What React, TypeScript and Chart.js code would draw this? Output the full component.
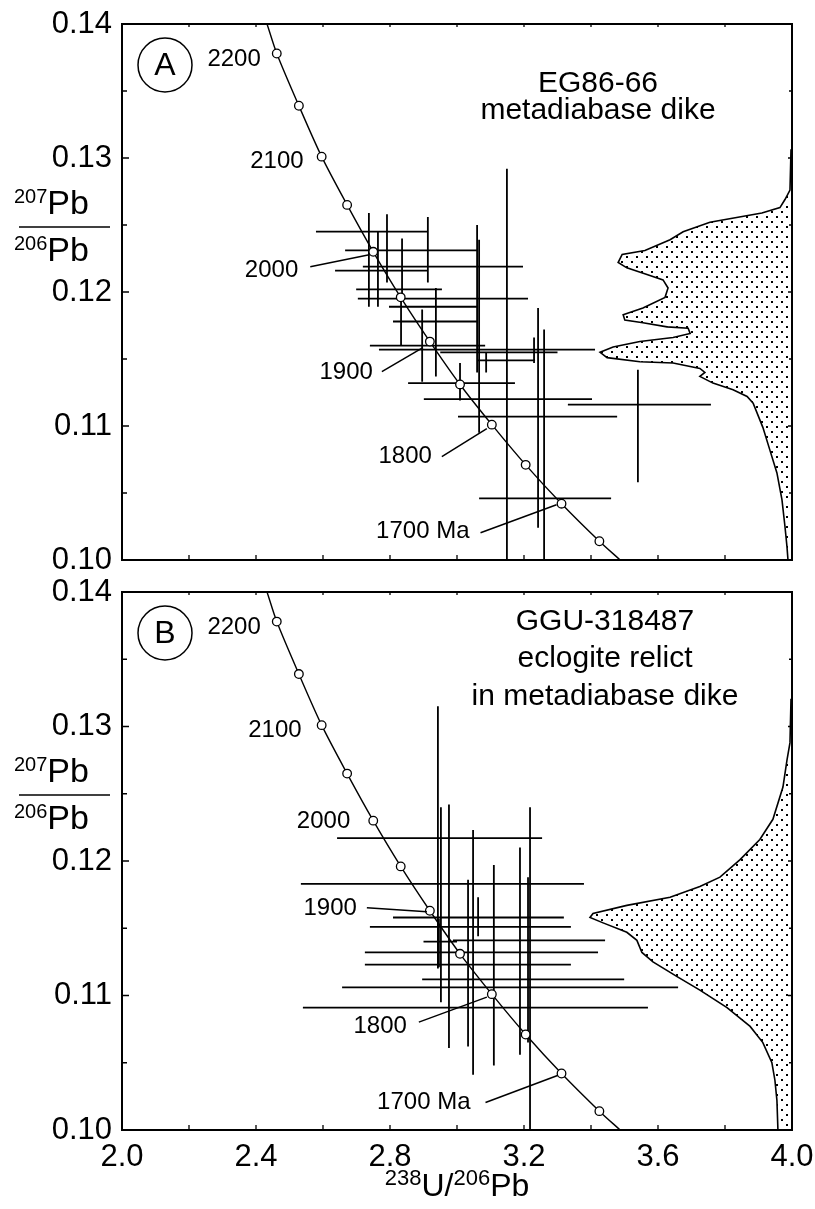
import React, { useEffect, useRef } from 'react';
import { Chart, registerables } from 'chart.js';
Chart.register(...registerables);

const FONT = '"Liberation Sans", Arial, Helvetica, sans-serif';

// Concordia curve (Tera-Wasserburg), ages in Ma (0 = curve end, no marker)
const concordiaAge = [0, 2200, 2150, 2100, 2050, 2000, 1950, 1900, 1850, 1800, 1750, 1700, 1650, 0];
const concordiaX = [2.433, 2.462, 2.528, 2.596, 2.672, 2.750, 2.832, 2.919, 3.009, 3.104, 3.205, 3.312, 3.425, 3.487];
const concordiaY = [0.1400, 0.1378, 0.1339, 0.1301, 0.1265, 0.1230, 0.1196, 0.1163, 0.1131, 0.1101, 0.1071, 0.1042, 0.1014, 0.1000];

// Panel A: EG86-66 analyses (centre, error cross extents)
const aX = [2.737, 2.913, 3.060, 2.791, 2.836, 2.764, 2.833, 2.937, 2.896, 3.149, 3.230, 3.009, 3.242, 3.540, 3.066, 3.260, 3.087];
const aY = [0.1245, 0.1231, 0.1219, 0.1216, 0.1202, 0.1195, 0.1189, 0.1178, 0.1160, 0.1157, 0.1149, 0.1132, 0.1120, 0.1116, 0.1107, 0.1046, 0.1155];
const aXLo = [2.579, 2.666, 2.719, 2.636, 2.699, 2.704, 2.797, 2.809, 2.740, 2.767, 3.060, 2.854, 2.901, 3.331, 3.003, 3.066, 2.950];
const aXHi = [2.913, 3.060, 3.197, 2.913, 2.955, 3.212, 3.060, 3.060, 3.084, 3.412, 3.233, 3.173, 3.403, 3.758, 3.478, 3.460, 3.300];
const aYLo = [0.1189, 0.1207, 0.1140, 0.1207, 0.1194, 0.1189, 0.1160, 0.1137, 0.1133, 0.0990, 0.1147, 0.1119, 0.1024, 0.1058, 0.1095, 0.0990, 0.1140];
const aYHi = [0.1259, 0.1256, 0.1250, 0.1258, 0.1240, 0.1245, 0.1194, 0.1203, 0.1187, 0.1292, 0.1166, 0.1147, 0.1188, 0.1142, 0.1239, 0.1172, 0.1155];

// Panel A: probability density (207/206 value, width in x-units from the right edge)
const densAY = [0.1306, 0.1276, 0.1269, 0.1263, 0.1259, 0.1252, 0.1245, 0.1239, 0.1231, 0.1228, 0.1222, 0.1218, 0.1213, 0.1209, 0.1203, 0.1196, 0.1188, 0.1183, 0.1179, 0.1177, 0.1174, 0.1173, 0.1169, 0.1166, 0.1163, 0.1159, 0.1155, 0.1151, 0.1148, 0.1147, 0.1143, 0.1140, 0.1137, 0.1132, 0.1127, 0.1122, 0.1117, 0.1099, 0.1082, 0.1065, 0.1045, 0.1025, 0.1010, 0.1000];
const densAW = [0.003, 0.006, 0.021, 0.036, 0.090, 0.245, 0.325, 0.364, 0.439, 0.507, 0.519, 0.493, 0.433, 0.385, 0.370, 0.379, 0.445, 0.504, 0.499, 0.445, 0.373, 0.310, 0.304, 0.355, 0.454, 0.534, 0.573, 0.552, 0.454, 0.355, 0.275, 0.260, 0.275, 0.236, 0.176, 0.134, 0.116, 0.087, 0.066, 0.045, 0.030, 0.021, 0.015, 0.012];

// Panel B: GGU-318487 analyses
const bX = [2.943, 2.976, 3.063, 2.952, 3.188, 3.110, 3.033, 3.212, 3.218, 3.048, 2.946];
const bY = [0.1217, 0.1183, 0.1158, 0.1151, 0.1141, 0.1132, 0.1123, 0.1112, 0.1106, 0.1091, 0.1140];
const bXLo = [2.642, 2.534, 2.809, 2.740, 2.988, 2.725, 2.725, 2.896, 2.657, 2.540, 2.900];
const bXHi = [3.254, 3.379, 3.319, 3.340, 3.442, 3.421, 3.340, 3.499, 3.660, 3.570, 3.000];
const bYLo = [0.1120, 0.1061, 0.1144, 0.1095, 0.1056, 0.1048, 0.1062, 0.1065, 0.0990, 0.1041, 0.1121];
const bYHi = [0.1315, 0.1242, 0.1173, 0.1240, 0.1210, 0.1197, 0.1186, 0.1188, 0.1240, 0.1223, 0.1157];

// Panel B: probability density
const densBY = [0.1320, 0.1288, 0.1275, 0.1255, 0.1231, 0.1216, 0.1201, 0.1188, 0.1181, 0.1173, 0.1167, 0.1161, 0.1158, 0.1154, 0.1147, 0.1141, 0.1132, 0.1125, 0.1114, 0.1104, 0.1091, 0.1077, 0.1065, 0.1050, 0.1037, 0.1022, 0.1000];
const densBW = [0.003, 0.006, 0.015, 0.027, 0.057, 0.096, 0.155, 0.215, 0.275, 0.364, 0.493, 0.594, 0.603, 0.564, 0.493, 0.463, 0.448, 0.415, 0.343, 0.275, 0.194, 0.125, 0.087, 0.060, 0.051, 0.045, 0.042];

type AgeLabel = { age: number; text: string; dx: number; dy: number; leader?: number[] };

const ageLabelsA: AgeLabel[] = [
  { age: 2200, text: '2200', dx: -16, dy: 6 },
  { age: 2100, text: '2100', dx: -18, dy: 5 },
  { age: 2000, text: '2000', dx: -75, dy: 19, leader: [-63, 15, -4, 3] },
  { age: 1900, text: '1900', dx: -57, dy: 31, leader: [-48, 30, -7, 6] },
  { age: 1800, text: '1800', dx: -60, dy: 32, leader: [-50, 32, -5, 4] },
  { age: 1700, text: '1700 Ma', dx: -92, dy: 28, leader: [-81, 29, -5, 1] },
];
const ageLabelsB: AgeLabel[] = [
  { age: 2200, text: '2200', dx: -16, dy: 6 },
  { age: 2100, text: '2100', dx: -20, dy: 5 },
  { age: 2000, text: '2000', dx: -23, dy: 1 },
  { age: 1900, text: '1900', dx: -73, dy: -2, leader: [-63, -3, -3, 1] },
  { age: 1800, text: '1800', dx: -85, dy: 32, leader: [-73, 28, -5, 3] },
  { age: 1700, text: '1700 Ma', dx: -91, dy: 29, leader: [-76, 29, -4, 2] },
];

type PanelCfg = {
  key: string; letter: string; title: string[]; titleDy: number[]; titleX: number;
  cx: number[]; cy: number[]; xLo: number[]; xHi: number[]; yLo: number[]; yHi: number[];
  densY: number[]; densW: number[]; ages: AgeLabel[];
  top: number; height: number; padTop: number; xAxisH: number; xLabels: boolean; xTitle: boolean;
};

const panels: PanelCfg[] = [
  { key: 'A', letter: 'A', title: ['EG86-66', 'metadiabase dike'], titleDy: [68, 95], titleX: 598,
    cx: aX, cy: aY, xLo: aXLo, xHi: aXHi, yLo: aYLo, yHi: aYHi, densY: densAY, densW: densAW, ages: ageLabelsA,
    top: 0, height: 578, padTop: 24, xAxisH: 18, xLabels: false, xTitle: false },
  { key: 'B', letter: 'B', title: ['GGU-318487', 'eclogite relict', 'in metadiabase dike'], titleDy: [38, 75, 113], titleX: 605,
    cx: bX, cy: bY, xLo: bXLo, xHi: bXHi, yLo: bYLo, yHi: bYHi, densY: densBY, densW: densBW, ages: ageLabelsB,
    top: 578, height: 631, padTop: 14, xAxisH: 79, xLabels: true, xTitle: true },
];

function makeDotPattern(): CanvasPattern | string {
  const c = document.createElement('canvas');
  c.width = 10; c.height = 10;
  const g = c.getContext('2d');
  if (!g) return '#ccc';
  g.fillStyle = '#fff'; g.fillRect(0, 0, 10, 10);
  g.fillStyle = '#000';
  g.fillRect(1, 1, 2, 2);
  g.fillRect(6, 6, 2, 2);
  return g.createPattern(c, 'repeat') || '#ccc';
}

function drawSupText(ctx: CanvasRenderingContext2D, parts: [string, boolean][], x: number, base: number, align: 'left' | 'center', bigSize: number, smallSize: number) {
  const big = `${bigSize}px ${FONT}`, small = `${smallSize}px ${FONT}`;
  let total = 0;
  for (const [t, sup] of parts) { ctx.font = sup ? small : big; total += ctx.measureText(t).width; }
  let cx = align === 'center' ? x - total / 2 : x;
  ctx.textAlign = 'left'; ctx.textBaseline = 'alphabetic';
  for (const [t, sup] of parts) {
    ctx.font = sup ? small : big;
    ctx.fillText(t, cx, sup ? base - 11 : base);
    cx += ctx.measureText(t).width;
  }
}

function makeDecor(cfg: PanelCfg) {
  return {
    id: 'decor' + cfg.key,
    beforeDatasetsDraw(chart: any) {
      const { ctx, chartArea: a, scales } = chart;
      const x = scales.x, y = scales.y;
      const ds = chart.data.datasets[2].data as any[];
      ctx.save();
      ctx.beginPath(); ctx.rect(a.left, a.top, a.right - a.left, a.bottom - a.top); ctx.clip();
      ctx.strokeStyle = '#000'; ctx.lineWidth = 1.8; ctx.lineCap = 'butt';
      for (const p of ds) {
        const px = x.getPixelForValue(p.x), py = y.getPixelForValue(p.y);
        ctx.beginPath();
        ctx.moveTo(x.getPixelForValue(p.xMin), py); ctx.lineTo(x.getPixelForValue(p.xMax), py);
        ctx.moveTo(px, y.getPixelForValue(p.yMin)); ctx.lineTo(px, y.getPixelForValue(p.yMax));
        ctx.stroke();
      }
      ctx.restore();
    },
    afterDatasetsDraw(chart: any) {
      const { ctx } = chart;
      const meta = chart.getDatasetMeta(0);
      ctx.save();
      ctx.fillStyle = '#000'; ctx.strokeStyle = '#000';
      ctx.font = `24px ${FONT}`; ctx.textAlign = 'right'; ctx.textBaseline = 'middle';
      for (const l of cfg.ages) {
        const i = concordiaAge.indexOf(l.age);
        const el = meta.data[i];
        ctx.fillText(l.text, el.x + l.dx, el.y + l.dy);
        if (l.leader) {
          ctx.lineWidth = 1.5;
          ctx.beginPath();
          ctx.moveTo(el.x + l.leader[0], el.y + l.leader[1]);
          ctx.lineTo(el.x + l.leader[2], el.y + l.leader[3]);
          ctx.stroke();
        }
      }
      ctx.restore();
    },
    afterDraw(chart: any) {
      const { ctx, chartArea: a, scales } = chart;
      const x = scales.x, y = scales.y;
      ctx.save();
      ctx.strokeStyle = '#000'; ctx.fillStyle = '#000';
      // frame
      ctx.lineWidth = 2;
      ctx.strokeRect(a.left, a.top, a.right - a.left, a.bottom - a.top);
      // inward ticks
      ctx.lineWidth = 1.3;
      ctx.beginPath();
      for (const t of x.ticks) {
        const px = x.getPixelForValue(t.value);
        ctx.moveTo(px, a.bottom); ctx.lineTo(px, a.bottom - 5);
        ctx.moveTo(px, a.top); ctx.lineTo(px, a.top + 3);
      }
      const yt = y.ticks.map((t: any) => t.value);
      for (let i = 0; i < yt.length; i++) {
        const py = y.getPixelForValue(yt[i]);
        ctx.moveTo(a.left, py); ctx.lineTo(a.left + 7, py);
        ctx.moveTo(a.right, py); ctx.lineTo(a.right - 4, py);
        if (i < yt.length - 1) {
          const pm = y.getPixelForValue((yt[i] + yt[i + 1]) / 2);
          ctx.moveTo(a.left, pm); ctx.lineTo(a.left + 5, pm);
          ctx.moveTo(a.right, pm); ctx.lineTo(a.right - 3, pm);
        }
      }
      ctx.stroke();
      // circled panel letter
      ctx.lineWidth = 1.5;
      ctx.beginPath(); ctx.arc(a.left + 43, a.top + 41, 27, 0, Math.PI * 2); ctx.stroke();
      ctx.font = `32px ${FONT}`; ctx.textAlign = 'center'; ctx.textBaseline = 'middle';
      ctx.fillText(cfg.letter, a.left + 43, a.top + 42);
      // sample title
      ctx.font = `30px ${FONT}`; ctx.textBaseline = 'alphabetic';
      cfg.title.forEach((t, i) => ctx.fillText(t, cfg.titleX, a.top + cfg.titleDy[i]));
      // y-axis title as a fraction
      drawSupText(ctx, [['207', true], ['Pb', false]], 14, a.top + 190, 'left', 34, 20);
      ctx.lineWidth = 1.5;
      ctx.beginPath(); ctx.moveTo(19, a.top + 203); ctx.lineTo(110, a.top + 203); ctx.stroke();
      drawSupText(ctx, [['206', true], ['Pb', false]], 14, a.top + 237, 'left', 34, 20);
      if (cfg.xTitle) {
        drawSupText(ctx, [['238', true], ['U/', false], ['206', true], ['Pb', false]], (a.left + a.right) / 2, chart.height - 13, 'center', 32, 22);
      }
      ctx.restore();
    },
  };
}

function Panel({ cfg }: { cfg: PanelCfg }) {
  const ref = useRef<HTMLCanvasElement>(null);
  useEffect(() => {
    const canvas = ref.current;
    if (!canvas) return;
    const densData = [
      { x: 4.0, y: cfg.densY[0] },
      ...cfg.densY.map((yy, i) => ({ x: 4.0 - cfg.densW[i], y: yy })),
      { x: 4.0, y: 0.10 },
    ];
    const crossData = cfg.cx.map((xx, i) => ({ x: xx, y: cfg.cy[i], xMin: cfg.xLo[i], xMax: cfg.xHi[i], yMin: cfg.yLo[i], yMax: cfg.yHi[i] }));
    const chart = new Chart(canvas, {
      type: 'scatter',
      data: {
        datasets: [
          {
            label: 'Concordia',
            data: concordiaX.map((xx, i) => ({ x: xx, y: concordiaY[i] })),
            showLine: true, tension: 0.3, borderColor: '#000', borderWidth: 1.4,
            pointRadius: concordiaAge.map((a) => (a ? 4.3 : 0)),
            pointBackgroundColor: '#fff', pointBorderColor: '#000', pointBorderWidth: 1.3,
          } as any,
          {
            label: 'Probability',
            data: densData, showLine: true, fill: 'shape', tension: 0,
            backgroundColor: makeDotPattern() as any, borderColor: '#000', borderWidth: 1.6, pointRadius: 0,
          } as any,
          { label: 'Analyses', data: crossData, pointRadius: 0, showLine: false } as any,
        ],
      },
      options: {
        responsive: false,
        animation: false,
        events: [],
        layout: { padding: { top: cfg.padTop, right: 23, bottom: 0, left: 0 } },
        plugins: { legend: { display: false }, tooltip: { enabled: false } },
        scales: {
          x: {
            type: 'linear', min: 2.0, max: 4.0, position: 'bottom',
            afterFit: (s: any) => { s.height = cfg.xAxisH; s.paddingLeft = 0; s.paddingRight = 0; },
            grid: { display: false, drawTicks: false },
            border: { display: false },
            ticks: {
              display: cfg.xLabels, stepSize: 0.2, autoSkip: false, maxRotation: 0, padding: 9,
              color: '#000', font: { family: FONT, size: 31 },
              callback: (v: any) => { const r = Math.round(Number(v) * 10); return r % 4 === 0 ? (r / 10).toFixed(1) : ''; },
            },
          },
          y: {
            type: 'linear', min: 0.10, max: 0.14,
            afterFit: (s: any) => { s.width = 122; s.paddingTop = 0; s.paddingBottom = 0; },
            grid: { display: false, drawTicks: false },
            border: { display: false },
            ticks: {
              stepSize: 0.01, padding: 10, color: '#000', font: { family: FONT, size: 31 },
              callback: (v: any) => Number(v).toFixed(2),
            },
          },
        },
      } as any,
      plugins: [makeDecor(cfg)],
    });
    return () => chart.destroy();
  }, [cfg]);
  return (
    <canvas
      ref={ref}
      width={815}
      height={cfg.height}
      style={{ position: 'absolute', left: 0, top: cfg.top, width: 815, height: cfg.height }}
    />
  );
}

export default function App() {
  return (
    <div style={{ position: 'absolute', left: 0, top: 0, width: 815, height: 1209, background: '#fff' }}>
      {panels.map((p) => <Panel key={p.key} cfg={p} />)}
    </div>
  );
}
